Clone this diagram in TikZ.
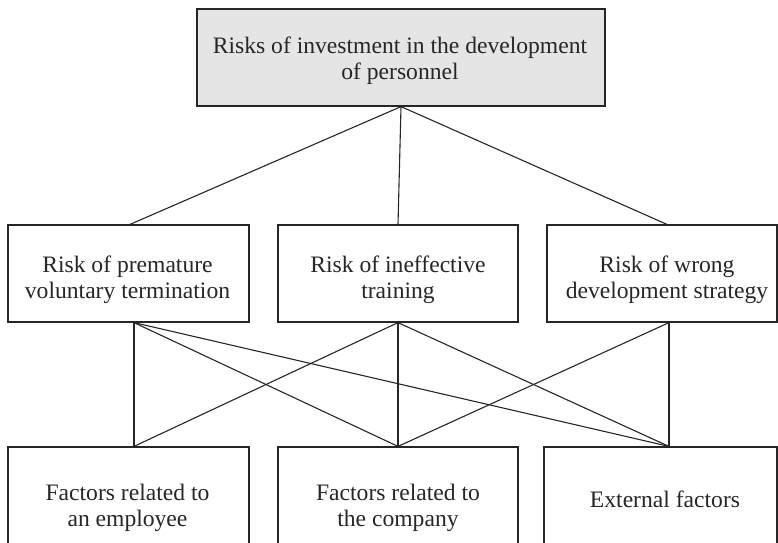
\documentclass[tikz,border=0pt]{standalone}
\usepackage{fontspec}
\setmainfont{Liberation Serif}
\begin{document}
\begin{tikzpicture}[x=1pt,y=-1pt,
  box/.style={draw=black!85,line width=1.2pt,rectangle,inner sep=0pt},
  label/.style={align=center,inner sep=0pt,font=\fontsize{23.6}{26}\selectfont,text=black!85},
  link/.style={draw=black!85,line width=1.1pt}]
\clip (0,0) rectangle (778,542);
\node[box,fill=black!10,minimum width=408pt,minimum height=97pt] (top) at (401,57.5) {};
\node[box,minimum width=241pt,minimum height=97pt] (m1) at (128.5,273.5) {};
\node[box,minimum width=240pt,minimum height=97pt] (m2) at (398,273.5) {};
\node[box,minimum width=230pt,minimum height=97pt] (m3) at (662,273.5) {};
\node[box,minimum width=241pt,minimum height=104pt] (b1) at (128.5,499) {};
\node[box,minimum width=240pt,minimum height=104pt] (b2) at (398,499) {};
\node[box,minimum width=233pt,minimum height=104pt] (b3) at (660.5,499) {};
% texts
\node[label] (toptxt) at (400,60.5) {Risks of investment in the development\\of personnel};
\node[label] (m1txt) at (127.5,279.5) {Risk of premature\\voluntary termination};
\node[label] (m2txt) at (398,279.5) {Risk of ineffective\\training};
\node[label] (m3txt) at (667,279.5) {Risk of wrong\\development strategy};
\node[label] (b1txt) at (127.5,507.5) {Factors related to\\an employee};
\node[label] (b2txt) at (398,507.5) {Factors related to\\the company};
\node[label,anchor=base] (b3txt) at (665,507) {External factors};
% top to middle
\draw[link] (top.south) -- ([xshift=1.5pt]m1.north);
\draw[link] (top.south) -- (m2.north);
\draw[link] (top.south) -- ([xshift=5pt]m3.north);
% middle to bottom
\coordinate (s1) at ([xshift=5.5pt]m1.south);
\coordinate (s2) at (m2.south);
\coordinate (s3) at ([xshift=7pt]m3.south);
\coordinate (t1) at ([xshift=5.5pt]b1.north);
\coordinate (t2) at (b2.north);
\coordinate (t3) at ([xshift=8.5pt]b3.north);
\draw[link] (s1) -- (t1);
\draw[link] (s1) -- (t2);
\draw[link] (s1) -- (t3);
\draw[link] (s2) -- (t1);
\draw[link] (s2) -- (t2);
\draw[link] (s2) -- (t3);
\draw[link] (s3) -- (t2);
\draw[link] (s3) -- (t3);
\end{tikzpicture}
\end{document}
